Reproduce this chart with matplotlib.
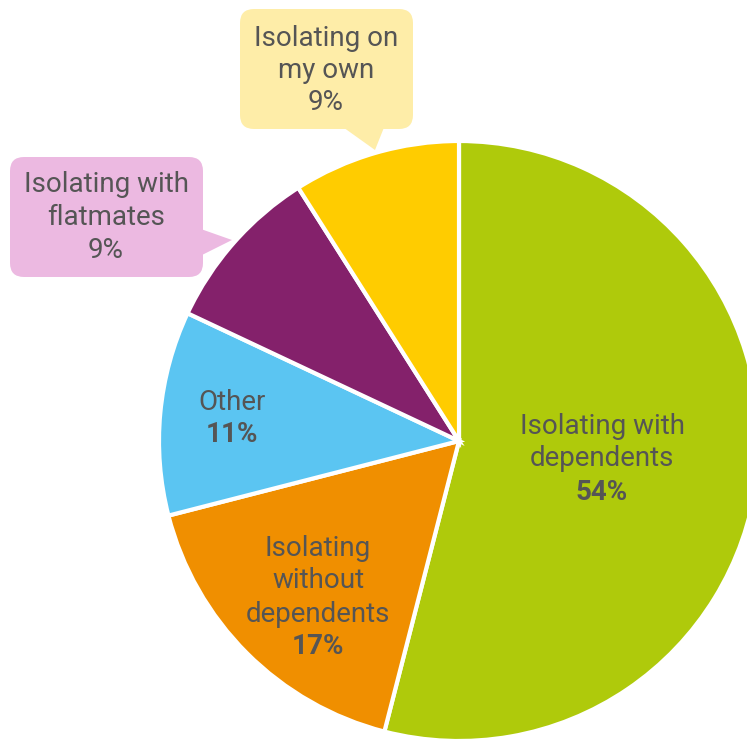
import matplotlib
matplotlib.use("Agg")
import matplotlib.pyplot as plt
from matplotlib.patches import FancyBboxPatch, Polygon

plt.rcParams["font.family"] = ["Roboto", "DejaVu Sans"]

# Share of respondents by isolation situation (clockwise from 12 o'clock)
categories = ["Isolating with\ndependents", "Isolating\nwithout\ndependents",
              "Other", "Isolating with\nflatmates", "Isolating on\nmy own"]
shares = [54, 17, 11, 9, 9]
colors = ["#AFCA0B", "#F08F00", "#5BC5F2", "#84216B", "#FFCC00"]

TEXT = "#555555"
FS = 20
W, H = 747, 740


def flip(y):
    return H - y


fig = plt.figure(figsize=(W / 100, H / 100), dpi=100)
ax = fig.add_axes([0, 0, 1, 1])

ax.pie(shares, colors=colors, startangle=90, counterclock=False,
       center=(459, flip(441)), radius=300,
       wedgeprops=dict(edgecolor="white", linewidth=3))

# pie() resets the view, so fix the pixel frame afterwards
ax.set_xlim(0, W)
ax.set_ylim(0, H)
ax.set_aspect("equal")
ax.axis("off")


def inside_label(x, y_top, name, share, step=33):
    lines = name.split("\n")
    for i, ln in enumerate(lines):
        ax.text(x, flip(y_top + i * step), ln, ha="center", va="center",
                fontsize=FS, color=TEXT)
    ax.text(x, flip(y_top + len(lines) * step), f"{share}%", ha="center",
            va="center", fontsize=FS, color=TEXT, fontweight="bold")


inside_label(602, 426, categories[0], shares[0])
inside_label(318, 548, categories[1], shares[1])
inside_label(232, 402, categories[2], shares[2])


def callout(box, tail, x, y_top, name, share, face, step=33):
    x0, y0, x1, y1 = box
    ax.add_patch(FancyBboxPatch((x0 + 14, flip(y1) + 14), x1 - x0 - 28, y1 - y0 - 28,
                                boxstyle="round,pad=14", facecolor=face,
                                edgecolor="none"))
    ax.add_patch(Polygon([(px, flip(py)) for px, py in tail], closed=True,
                         facecolor=face, edgecolor="none"))
    lines = name.split("\n") + [f"{share}%"]
    for i, ln in enumerate(lines):
        ax.text(x, flip(y_top + i * step), ln, ha="center", va="center",
                fontsize=FS, color=TEXT)


callout((240, 9, 413, 129), [(340, 125), (385, 125), (375, 150)],
        326, 38, categories[4], shares[4], "#FEEDA8", step=32.5)
callout((10, 157, 203, 277), [(198, 228), (198, 257), (232, 240)],
        106, 185, categories[3], shares[3], "#ECB9E1", step=32.5)

fig.savefig("out.png", dpi=100)
